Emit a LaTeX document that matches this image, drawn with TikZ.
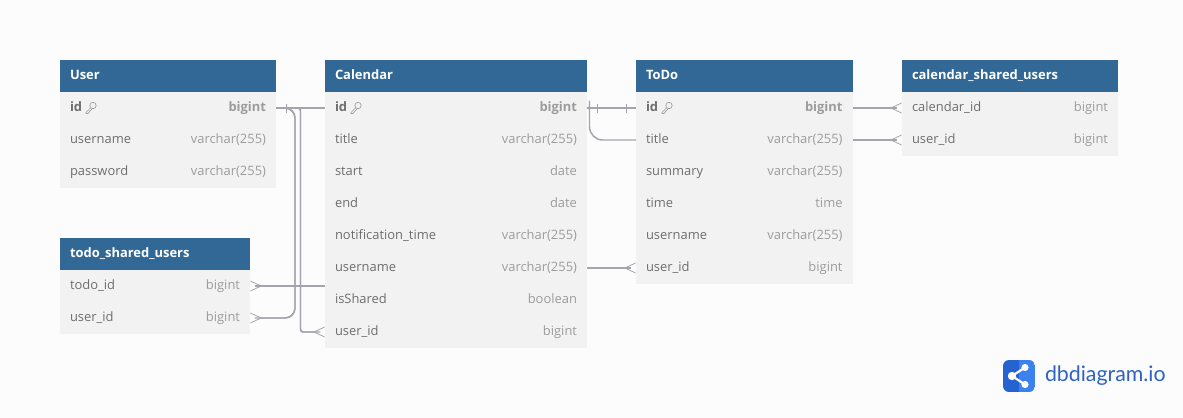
\documentclass[tikz,border=0pt]{standalone}
\usepackage{fontspec}
\setmainfont{Open Sans}
\newfontfamily\logofont{Lato}
\usepackage{xcolor}
\usetikzlibrary{arrows.meta,positioning}
\definecolor{pagebg}{HTML}{FCFCFC}
\definecolor{headblue}{HTML}{316896}
\definecolor{rowgray}{HTML}{F2F2F2}
\definecolor{namegray}{HTML}{6E6E6E}
\definecolor{typegray}{HTML}{9C9C9C}
\definecolor{linegray}{HTML}{A4A4AE}
\definecolor{logodark}{HTML}{2563D0}
\definecolor{logolight}{HTML}{3B82EE}
\definecolor{logotxt}{HTML}{2F62C4}

\begin{document}
\begin{tikzpicture}[
  x=0.75pt, y=-0.75pt,
  node distance=0pt,
  every node/.style={outer sep=0pt, inner ysep=0pt, inner xsep=7.5pt},
  head/.style={fill=headblue, text=white, anchor=north west, minimum height=24pt,
               text width=#1, text height=7pt, text depth=2pt,
               font=\fontsize{9.7}{11}\selectfont\bfseries},
  row/.style={fill=rowgray, text=namegray, minimum height=24pt,
              text width=#1, text height=7pt, text depth=2pt,
              font=\fontsize{9.7}{11}\selectfont},
  conn/.style={draw=linegray, line width=1.1pt},
  many/.style={-{Straight Barb[reversed, length=8pt, width=7.5pt, line width=0.6pt]},
               postaction={draw=linegray, arrows=-, shorten >=3.5pt}},
  tick/.style={draw=linegray, line width=0.7pt},
  keyicon/.pic={
    \draw[typegray, line width=0.5pt] (2,-2.5) circle (3.2);
    \draw[typegray, line width=0.5pt] (-0.5,0) -- (-5,4.5) -- (-5,5.5) -- (-3,5.5) -- (0.8,1);
  }
]
\fill[pagebg] (0,0) rectangle (1183,418);
\useasboundingbox (0,0) rectangle (1183,418);

% User
\node[head=147pt] (user) at (60,60) {User};
\node[row=147pt, below=of user] (user-id) {\textbf{id}\hfill\textcolor{typegray}{\textbf{bigint}}};
\node[row=147pt, below=of user-id] (user-name) {username\hfill\textcolor{typegray}{varchar(255)}};
\node[row=147pt, below=of user-name] (user-pass) {password\hfill\textcolor{typegray}{varchar(255)}};

% todo_shared_users
\node[head=127.5pt] (tsu) at (60,238) {todo\_shared\_users};
\node[row=127.5pt, below=of tsu] (tsu-todo) {todo\_id\hfill\textcolor{typegray}{bigint}};
\node[row=127.5pt, below=of tsu-todo] (tsu-user) {user\_id\hfill\textcolor{typegray}{bigint}};

% Calendar
\node[head=181.5pt] (cal) at (325,60) {Calendar};
\node[row=181.5pt, below=of cal] (cal-id) {\textbf{id}\hfill\textcolor{typegray}{\textbf{bigint}}};
\node[row=181.5pt, below=of cal-id] (cal-title) {title\hfill\textcolor{typegray}{varchar(255)}};
\node[row=181.5pt, below=of cal-title] (cal-start) {start\hfill\textcolor{typegray}{date}};
\node[row=181.5pt, below=of cal-start] (cal-end) {end\hfill\textcolor{typegray}{date}};
\node[row=181.5pt, below=of cal-end] (cal-notif) {notification\_time\hfill\textcolor{typegray}{varchar(255)}};
\node[row=181.5pt, below=of cal-notif] (cal-name) {username\hfill\textcolor{typegray}{varchar(255)}};
\node[row=181.5pt, below=of cal-name] (cal-shared) {isShared\hfill\textcolor{typegray}{boolean}};
\node[row=181.5pt, below=of cal-shared] (cal-user) {user\_id\hfill\textcolor{typegray}{bigint}};

% ToDo
\node[head=147.4pt] (todo) at (636,60) {ToDo};
\node[row=147.4pt, below=of todo] (todo-id) {\textbf{id}\hfill\textcolor{typegray}{\textbf{bigint}}};
\node[row=147.4pt, below=of todo-id] (todo-title) {title\hfill\textcolor{typegray}{varchar(255)}};
\node[row=147.4pt, below=of todo-title] (todo-summary) {summary\hfill\textcolor{typegray}{varchar(255)}};
\node[row=147.4pt, below=of todo-summary] (todo-time) {time\hfill\textcolor{typegray}{time}};
\node[row=147.4pt, below=of todo-time] (todo-name) {username\hfill\textcolor{typegray}{varchar(255)}};
\node[row=147.4pt, below=of todo-name] (todo-user) {user\_id\hfill\textcolor{typegray}{bigint}};

% calendar_shared_users
\node[head=147pt] (csu) at (902,60) {calendar\_shared\_users};
\node[row=147pt, below=of csu] (csu-cal) {calendar\_id\hfill\textcolor{typegray}{bigint}};
\node[row=147pt, below=of csu-cal] (csu-user) {user\_id\hfill\textcolor{typegray}{bigint}};

% key icons
\path (user-id.west) ++(31,0) pic {keyicon};
\path (cal-id.west) ++(31,0) pic {keyicon};
\path (todo-id.west) ++(31,0) pic {keyicon};

% connectors
\coordinate (busa) at (295,200);
\coordinate (busb) at (300.5,200);
\draw[conn] (user-id.east) -- (cal-id.west);
\draw[tick] (user-id.east) ++(10,-4.5) -- ++(0,9);
\draw[conn, many, rounded corners=7.5] (user-id.east) -| (busa) |- (tsu-user.east);
\draw[conn, many, rounded corners=2] (user-id.east) -| (busb) |- (cal-user.west);
\draw[conn, many] (cal-shared.west |- tsu-todo.east) -- (tsu-todo.east);

\draw[conn] (cal-id.east) -- (todo-id.west);
\draw[tick] (cal-id.east) ++(10,-4.5) -- ++(0,9);
\draw[tick] (todo-id.west) ++(-10,-4.5) -- ++(0,9);
\draw[conn, rounded corners=10] (cal-id.east) to[out=0, in=90] ++(2.5,6) |- (todo-title.west);
\draw[conn, many] (cal-name.east) -- (todo-user.west);
\draw[conn, many] (todo-id.east) -- (csu-cal.west);
\draw[conn, many] (todo-title.east) -- (csu-user.west);

% logo
\begin{scope}
  \clip[rounded corners=4.5] (1003,360) rectangle (1035,392);
  \fill[logodark] (1003,360) rectangle (1019,392);
  \fill[logolight] (1019,360) rectangle (1035,392);
\end{scope}
\coordinate (logo-hub) at (1012,376);
\coordinate (logo-top) at (1025,367.5);
\coordinate (logo-bot) at (1025,384.5);
\draw[white, line width=1.6pt] (logo-top) -- (logo-hub) -- (logo-bot);
\fill[white] (logo-hub) circle (4.2) (logo-top) circle (3.6) (logo-bot) circle (3.6);
\node[anchor=west, inner xsep=0pt, text=logotxt, font=\logofont\fontsize{16}{18}\selectfont] (logo-text) at (1045,376) {dbdiagram.io};
\end{tikzpicture}
\end{document}
